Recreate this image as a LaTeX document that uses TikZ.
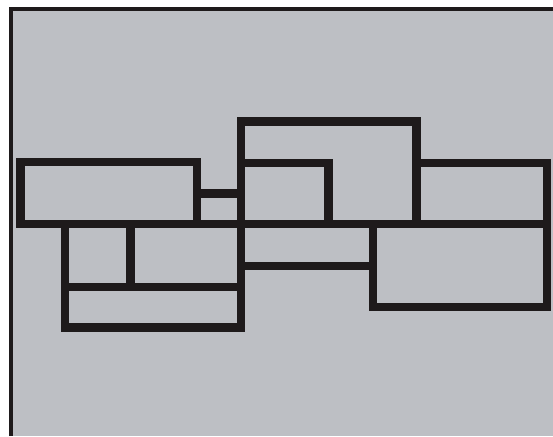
\documentclass[tikz,border=0pt]{standalone}
\definecolor{bg}{RGB}{189,191,196}
\definecolor{ink}{RGB}{30,26,27}
\begin{document}
\begin{tikzpicture}[x=1pt,y=-1pt,
  wall/.style={draw=ink,line width=8.5pt,line join=miter,line cap=rect},
  frame/.style={draw=ink,line width=4pt}]
\useasboundingbox (0,0) rectangle (553,436);
\fill[white] (0,0) rectangle (553,436);
\fill[bg] (10.5,9) rectangle (553,436);
\draw[frame] (10.5,436) -- (10.5,9) -- (553,9);
% upper row
\draw[wall] (20.5,162) rectangle (197,224);
\draw[wall] (197,193.5) -- (241,193.5);
\draw[wall] (241,224) -- (241,121.5) -- (416.5,121.5) -- (416.5,224);
\draw[wall] (241,163) -- (328.5,163) -- (328.5,224);
\draw[wall] (416.5,163) -- (547,163) -- (547,224);
\draw[wall] (20.5,224) -- (547,224);
% lower row
\draw[wall] (65,224) rectangle (241,327.5);
\draw[wall] (65,287) -- (241,287);
\draw[wall] (130.5,224) -- (130.5,287);
\draw[wall] (241,266) -- (373,266);
\draw[wall] (373,224) rectangle (547,307);
\end{tikzpicture}
\end{document}
